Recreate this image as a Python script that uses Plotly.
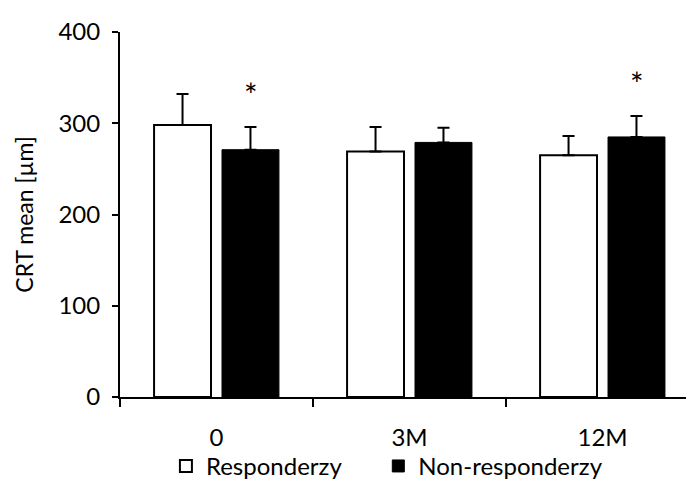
import plotly.graph_objects as go

categories = ["0", "3M", "12M"]
resp_mean = [298, 269, 265]
resp_err = [34, 27, 21]
nonresp_mean = [271, 279, 285]
nonresp_err = [25, 16, 23]
nonresp_sig = ["*", "", "*"]
y_ticks = [0, 100, 200, 300, 400]

FONT = "Lato, Carlito, Calibri, sans-serif"

fig = go.Figure()
fig.add_trace(go.Bar(
    name="Responderzy", x=categories, y=resp_mean, legend="legend",
    marker=dict(color="white", line=dict(color="black", width=2)),
    error_y=dict(type="data", array=resp_err, arrayminus=[0] * 3, symmetric=False,
                 color="black", thickness=2, width=6),
))
fig.add_trace(go.Bar(
    name="Non-responderzy", x=categories, y=nonresp_mean, legend="legend2",
    marker=dict(color="black", line=dict(color="black", width=1)),
    error_y=dict(type="data", array=nonresp_err, arrayminus=[0] * 3, symmetric=False,
                 color="black", thickness=2, width=6),
))

for c, m, e, s in zip(categories, nonresp_mean, nonresp_err, nonresp_sig):
    if s:
        fig.add_annotation(x=c, y=m + e + 36, text=s, showarrow=False, xshift=34, yshift=0,
                           font=dict(family=FONT, size=32, color="black"))

leg_common = dict(orientation="h", yanchor="middle", y=-0.19, xanchor="left",
                  font=dict(family=FONT, size=24, color="black"), itemwidth=30,
                  bgcolor="rgba(0,0,0,0)")

fig.update_layout(
    width=694, height=489,
    margin=dict(l=112, r=8, t=17, b=94),
    paper_bgcolor="white", plot_bgcolor="white",
    barmode="group", bargap=0.296, bargroupgap=0.162,
    font=dict(family=FONT, size=24, color="black"),
    showlegend=True,
    legend=dict(x=0.080, **leg_common),
    legend2=dict(x=0.450, **leg_common),
    xaxis=dict(type="category", range=[-0.5, 2.474], showline=True, linecolor="black", linewidth=2,
               ticks="outside", tickson="boundaries", ticklen=8, tickwidth=2, tickcolor="black",
               showgrid=False, zeroline=False, ticklabelstandoff=18, fixedrange=True),
    yaxis=dict(range=[0, 400], tickvals=y_ticks, showline=True, linecolor="black", linewidth=2,
               ticks="outside", ticklen=6, tickwidth=2, tickcolor="black", showgrid=False,
               zeroline=False, ticklabelstandoff=7,
               title=dict(text="CRT mean [µm]", standoff=18, font=dict(family=FONT, size=23))),
)

fig.write_html("out.html")
